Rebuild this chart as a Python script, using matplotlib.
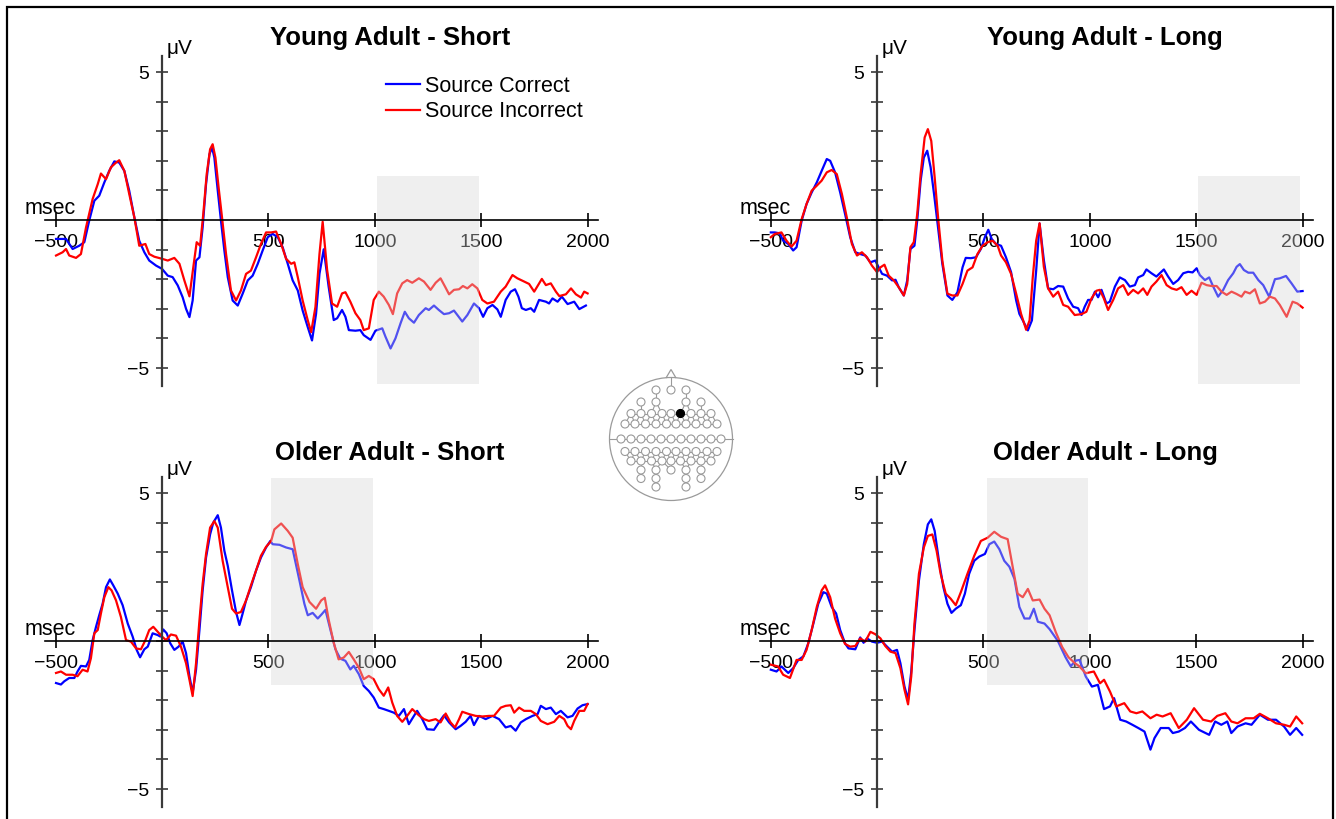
import matplotlib
matplotlib.use('Agg')
import matplotlib.pyplot as plt
from matplotlib.patches import Rectangle, Circle, Polygon
from matplotlib.ticker import FixedLocator, NullFormatter
import numpy as np

plt.rcParams['font.family'] = ['Liberation Sans', 'DejaVu Sans']

# ---------------- data (time in ms, amplitude in microvolts) ----------------
ya_short_correct = [(-498,-0.64),(-451,-0.64),(-420,-0.98),(-389,-0.87),(-365,-0.75),(-342,-0.02),(-318,0.65),(-295,0.82),(-271,1.27),(-248,1.66),(-224,1.98),(-201,1.94),(-177,1.66),(-154,0.99),(-130,0.09),(-107,-0.70),(-83,-1.09),(-60,-1.37),(-28,-1.54),(0,-1.65),(27,-1.88),(50,-1.93),(74,-2.21),(97,-2.61),(113,-3.0),(129,-3.28),(144,-2.72),(160,-1.37),(176,-1.26),(191,-0.25),(207,1.21),(223,2.22),(235,2.45),(246,2.11),(262,0.99),(277,-0.02),(293,-1.03),(309,-1.93),(332,-2.72),(356,-2.89),(379,-2.49),(403,-2.04),(426,-1.88),(450,-1.48),(473,-1.03),(497,-0.58),(520,-0.47),(544,-0.58),(567,-0.92),(591,-1.48),(614,-2.04),(638,-2.38),(661,-3.06),(685,-3.62),(705,-4.07),(724,-3.17),(740,-1.82),(760,-0.99),(783,-2.25),(807,-3.38),(823,-3.32),(846,-3.04),(862,-3.27),(878,-3.72),(909,-3.74),(932,-3.72),(948,-3.89),(980,-4.05),(1003,-3.74),(1035,-3.66),(1050,-3.94),(1074,-4.34),(1097,-4.0),(1121,-3.49),(1141,-3.10),(1160,-3.32),(1184,-3.47),(1207,-3.21),(1239,-2.98),(1254,-3.04),(1278,-2.89),(1301,-3.04),(1325,-3.18),(1349,-3.15),(1372,-3.06),(1388,-3.21),(1411,-3.43),(1435,-3.21),(1466,-2.82),(1490,-2.98),(1509,-3.27),(1529,-2.98),(1553,-2.87),(1576,-3.02),(1592,-3.27),(1615,-2.70),(1639,-2.42),(1659,-2.34),(1675,-2.59),(1691,-2.98),(1710,-3.04),(1733,-2.98),(1749,-3.10),(1772,-2.70),(1804,-2.76),(1819,-2.82),(1835,-2.65),(1859,-2.76),(1879,-2.59),(1906,-2.84),(1937,-2.76),(1961,-3.01),(1992,-2.89)]
ya_short_incorrect = [(-498,-1.20),(-467,-1.09),(-451,-0.98),(-436,-1.20),(-404,-1.28),(-381,-1.15),(-357,-0.25),(-326,0.71),(-302,1.21),(-287,1.57),(-263,1.38),(-240,1.78),(-216,1.94),(-201,2.02),(-177,1.66),(-154,0.88),(-130,0.09),(-107,-0.87),(-78,-0.81),(-60,-1.15),(-36,-1.24),(0,-1.31),(27,-1.37),(58,-1.28),(82,-1.48),(105,-2.04),(129,-2.58),(147,-1.60),(163,-0.75),(179,-0.87),(194,0.20),(210,1.55),(226,2.39),(238,2.56),(251,2.11),(266,1.10),(282,0.09),(301,-1.15),(324,-2.38),(348,-2.72),(371,-2.38),(395,-1.82),(418,-1.71),(442,-1.26),(465,-0.81),(489,-0.42),(513,-0.42),(536,-0.39),(560,-0.81),(583,-1.31),(607,-1.48),(622,-1.43),(638,-1.93),(661,-2.72),(685,-3.39),(701,-3.79),(721,-2.94),(740,-1.15),(755,-0.06),(776,-1.69),(799,-2.82),(823,-2.93),(846,-2.48),(862,-2.44),(885,-2.76),(909,-3.15),(932,-3.38),(948,-3.72),(972,-3.66),(995,-2.70),(1019,-2.42),(1042,-2.59),(1066,-2.87),(1085,-3.18),(1105,-2.48),(1129,-2.14),(1152,-2.03),(1176,-2.12),(1207,-1.97),(1231,-2.08),(1262,-2.36),(1286,-2.12),(1309,-1.97),(1330,-2.25),(1349,-2.51),(1372,-2.36),(1396,-2.34),(1414,-2.23),(1435,-2.31),(1458,-2.17),(1482,-2.31),(1505,-2.70),(1529,-2.82),(1560,-2.76),(1592,-2.42),(1615,-2.25),(1647,-1.86),(1670,-1.97),(1702,-2.08),(1725,-2.16),(1749,-2.42),(1785,-1.99),(1804,-2.20),(1827,-2.14),(1851,-2.42),(1867,-2.57),(1898,-2.51),(1922,-2.31),(1945,-2.51),(1969,-2.62),(1984,-2.42),(2000,-2.48)]

ya_long_correct = [(-499,-0.42),(-480,-0.42),(-457,-0.45),(-441,-0.70),(-417,-0.81),(-394,-1.03),(-378,-0.92),(-354,-0.02),(-331,0.54),(-307,0.93),(-283,1.27),(-260,1.66),(-236,2.06),(-220,2.0),(-197,1.61),(-173,0.93),(-150,0.20),(-126,-0.58),(-102,-1.09),(-79,-1.15),(-55,-1.20),(-31,-1.43),(-8,-1.37),(8,-1.60),(24,-1.82),(47,-1.88),(71,-2.04),(87,-2.02),(102,-2.27),(126,-2.55),(142,-2.04),(157,-0.98),(176,-0.87),(189,-0.02),(205,1.33),(220,2.11),(236,2.34),(252,1.78),(268,0.88),(283,-0.02),(307,-1.48),(331,-2.55),(354,-2.70),(378,-2.44),(402,-1.60),(417,-1.28),(441,-1.29),(465,-1.26),(488,-0.98),(507,-0.58),(523,-0.33),(539,-0.64),(559,-0.81),(583,-0.87),(606,-1.26),(630,-1.76),(654,-2.72),(669,-3.17),(685,-3.39),(709,-3.73),(728,-3.39),(748,-1.71),(764,-0.12),(784,-1.35),(804,-2.31),(828,-2.34),(851,-2.23),(875,-2.25),(898,-2.65),(922,-2.93),(945,-2.98),(961,-3.21),(976,-2.93),(992,-2.70),(1008,-2.70),(1024,-2.42),(1039,-2.61),(1055,-2.36),(1078,-2.82),(1094,-2.76),(1118,-2.25),(1141,-1.94),(1165,-2.03),(1188,-2.25),(1212,-2.20),(1227,-1.94),(1251,-1.86),(1266,-1.67),(1290,-1.80),(1313,-1.91),(1329,-1.80),(1348,-1.67),(1368,-1.91),(1392,-2.16),(1415,-2.03),(1439,-1.80),(1462,-1.75),(1483,-1.77),(1502,-1.63),(1517,-1.86),(1541,-2.03),(1561,-1.94),(1580,-2.25),(1603,-2.59),(1627,-2.36),(1650,-2.03),(1674,-1.80),(1690,-1.58),(1705,-1.49),(1724,-1.69),(1745,-1.78),(1768,-1.78),(1792,-2.03),(1815,-2.20),(1843,-2.59),(1870,-2.0),(1893,-1.97),(1922,-1.89),(1948,-2.14),(1975,-2.42),(2000,-2.40)]
ya_long_incorrect = [(-499,-0.58),(-480,-0.47),(-449,-0.42),(-425,-0.70),(-402,-0.90),(-378,-0.70),(-354,0.03),(-331,0.54),(-307,0.99),(-283,1.16),(-260,1.33),(-236,1.61),(-213,1.69),(-189,1.55),(-165,0.88),(-142,0.09),(-118,-0.81),(-94,-1.20),(-71,-1.09),(-47,-1.26),(-24,-1.54),(0,-1.76),(16,-1.60),(35,-1.51),(55,-1.88),(79,-2.04),(102,-2.27),(126,-2.55),(142,-2.16),(157,-0.92),(173,-0.75),(189,0.20),(205,1.55),(224,2.79),(239,3.07),(255,2.67),(271,1.44),(287,0.09),(307,-1.37),(331,-2.49),(354,-2.55),(378,-2.55),(402,-2.16),(425,-1.71),(449,-1.60),(472,-1.15),(496,-0.87),(520,-0.75),(543,-0.70),(567,-0.87),(583,-1.20),(606,-1.43),(630,-1.82),(654,-2.49),(677,-3.17),(701,-3.71),(717,-3.39),(732,-1.93),(748,-0.70),(764,-0.11),(784,-1.58),(804,-2.31),(828,-2.59),(851,-2.42),(875,-2.87),(898,-2.93),(929,-3.21),(961,-3.18),(984,-3.10),(1008,-2.65),(1031,-2.39),(1047,-2.36),(1066,-2.65),(1086,-3.04),(1110,-2.70),(1133,-2.31),(1157,-2.20),(1180,-2.53),(1204,-2.36),(1227,-2.48),(1251,-2.31),(1270,-2.53),(1290,-2.25),(1313,-2.08),(1337,-1.86),(1361,-2.20),(1384,-2.31),(1408,-2.36),(1431,-2.27),(1455,-2.53),(1478,-2.39),(1502,-2.53),(1525,-2.12),(1549,-2.20),(1572,-2.23),(1596,-2.23),(1619,-2.42),(1643,-2.53),(1666,-2.42),(1690,-2.50),(1713,-2.59),(1729,-2.42),(1752,-2.48),(1776,-2.34),(1799,-2.82),(1823,-2.76),(1846,-2.59),(1870,-2.65),(1893,-2.87),(1925,-3.27),(1953,-2.76),(1975,-2.82),(2000,-2.96)]

oa_short_correct = [(-498,-1.42),(-475,-1.47),(-459,-1.36),(-436,-1.25),(-412,-1.25),(-397,-1.03),(-381,-0.84),(-357,-0.86),(-342,-0.64),(-326,0.03),(-310,0.48),(-295,0.87),(-279,1.26),(-263,1.82),(-245,2.08),(-229,1.88),(-208,1.60),(-185,1.21),(-161,0.59),(-138,0.15),(-119,-0.30),(-103,-0.55),(-83,-0.28),(-67,-0.19),(-44,0.26),(-20,0.20),(-8,0.15),(6,0.39),(22,0.26),(39,-0.08),(58,-0.30),(78,-0.19),(97,-0.02),(113,-0.41),(129,-1.19),(144,-1.75),(160,-0.97),(176,0.37),(191,1.71),(207,2.82),(226,3.60),(241,4.0),(262,4.25),(277,3.83),(293,3.05),(309,2.54),(329,1.71),(348,0.98),(364,0.54),(379,0.93),(395,1.37),(418,1.82),(442,2.38),(465,2.82),(489,3.16),(509,3.38),(520,3.27),(552,3.25),(583,3.16),(614,3.10),(646,2.04),(669,1.26),(685,0.87),(708,0.95),(732,0.76),(750,0.90),(768,1.05),(791,0.39),(815,-0.28),(838,-0.60),(862,-0.67),(885,-0.96),(901,-0.84),(925,-1.12),(948,-1.52),(972,-1.69),(995,-1.91),(1019,-2.25),(1042,-2.30),(1066,-2.36),(1089,-2.42),(1113,-2.53),(1137,-2.30),(1160,-2.81),(1184,-2.53),(1199,-2.36),(1223,-2.64),(1246,-2.98),(1278,-3.0),(1301,-2.75),(1325,-2.51),(1349,-2.75),(1380,-2.98),(1403,-2.87),(1427,-2.73),(1450,-2.53),(1466,-2.84),(1490,-2.53),(1521,-2.64),(1553,-2.53),(1584,-2.64),(1615,-2.92),(1639,-2.87),(1662,-3.03),(1686,-2.75),(1710,-2.64),(1741,-2.53),(1765,-2.47),(1780,-2.19),(1804,-2.30),(1827,-2.25),(1851,-2.47),(1874,-2.36),(1906,-2.58),(1929,-2.53),(1953,-2.28),(1976,-2.17),(2000,-2.13)]
oa_short_incorrect = [(-498,-1.08),(-475,-1.03),(-451,-1.14),(-420,-1.14),(-397,-1.19),(-373,-0.97),(-350,-1.03),(-334,-0.58),(-318,0.26),(-302,0.37),(-287,0.93),(-271,1.48),(-252,1.82),(-237,1.71),(-216,1.37),(-193,0.81),(-169,0.03),(-146,-0.02),(-122,-0.25),(-99,-0.28),(-78,0.03),(-60,0.37),(-41,0.48),(-20,0.31),(0,0.15),(19,0.03),(42,0.22),(66,0.18),(89,-0.19),(113,-0.75),(129,-1.31),(144,-1.86),(160,-0.75),(176,0.70),(191,1.93),(207,2.94),(226,3.83),(246,4.05),(262,3.83),(285,2.71),(309,1.82),(329,1.09),(348,0.93),(371,0.98),(395,1.37),(418,1.88),(442,2.38),(465,2.88),(489,3.18),(513,3.38),(528,3.77),(560,3.97),(591,3.72),(614,3.49),(638,2.60),(661,1.82),(693,1.32),(724,1.09),(748,1.37),(765,1.46),(783,0.73),(807,-0.06),(830,-0.62),(854,-0.56),(878,-0.37),(901,-0.62),(925,-0.90),(948,-1.29),(972,-1.18),(995,-1.29),(1019,-1.63),(1042,-1.85),(1063,-1.57),(1082,-2.08),(1105,-2.53),(1129,-2.73),(1152,-2.53),(1176,-2.30),(1207,-2.51),(1231,-2.64),(1254,-2.70),(1286,-2.64),(1309,-2.75),(1333,-2.45),(1356,-2.75),(1377,-2.92),(1396,-2.64),(1411,-2.39),(1443,-2.47),(1474,-2.53),(1505,-2.55),(1537,-2.53),(1560,-2.53),(1592,-2.25),(1615,-2.19),(1639,-2.17),(1655,-2.42),(1678,-2.25),(1702,-2.36),(1733,-2.36),(1757,-2.47),(1780,-2.70),(1812,-2.81),(1843,-2.73),(1867,-2.53),(1890,-2.64),(1906,-2.87),(1922,-2.98),(1937,-2.70),(1961,-2.36),(1984,-2.36),(2000,-2.13)]

oa_long_correct = [(-499,-0.97),(-472,-1.03),(-449,-0.86),(-417,-1.08),(-394,-0.92),(-370,-0.64),(-346,-0.52),(-323,-0.08),(-299,0.59),(-276,1.26),(-252,1.65),(-236,1.60),(-213,1.15),(-192,0.93),(-173,0.37),(-150,-0.08),(-134,-0.25),(-102,-0.28),(-79,0.12),(-63,-0.06),(-47,0.09),(-24,-0.02),(0,-0.06),(24,-0.02),(47,-0.19),(71,-0.36),(94,-0.30),(110,-0.75),(129,-1.53),(146,-1.98),(161,-1.03),(176,0.37),(197,2.04),(220,3.27),(239,3.94),(255,4.11),(271,3.72),(291,2.71),(312,1.82),(331,1.26),(350,0.95),(370,1.09),(394,1.21),(413,1.60),(433,2.27),(457,2.71),(480,2.85),(507,2.94),(528,3.27),(551,3.36),(575,3.10),(598,2.71),(622,2.51),(646,2.10),(669,1.15),(693,0.76),(717,0.76),(737,1.09),(756,0.65),(787,0.59),(811,0.40),(850,0.0),(886,-0.55),(910,-0.85),(935,-0.66),(952,-0.64),(981,-1.20),(1010,-1.54),(1038,-1.48),(1067,-2.30),(1095,-2.21),(1114,-1.93),(1143,-2.66),(1171,-2.72),(1200,-2.83),(1228,-2.94),(1257,-3.06),(1285,-3.67),(1304,-3.28),(1333,-2.94),(1371,-2.94),(1390,-3.11),(1418,-3.06),(1447,-2.94),(1475,-2.72),(1513,-3.0),(1561,-3.17),(1589,-2.72),(1618,-2.83),(1646,-2.72),(1665,-3.11),(1694,-2.89),(1732,-2.78),(1760,-2.83),(1799,-2.49),(1837,-2.66),(1875,-2.66),(1913,-2.89),(1941,-3.17),(1970,-2.94),(1998,-3.17)]
oa_long_incorrect = [(-499,-0.80),(-465,-0.86),(-441,-1.14),(-409,-1.25),(-378,-0.64),(-354,-0.64),(-331,-0.30),(-307,0.37),(-283,1.15),(-260,1.71),(-244,1.88),(-220,1.48),(-197,0.76),(-173,0.26),(-150,-0.10),(-126,-0.19),(-102,-0.17),(-79,0.09),(-55,-0.02),(-31,0.31),(-8,0.23),(16,0.09),(39,-0.17),(63,-0.36),(87,-0.41),(110,-0.92),(129,-1.64),(146,-2.14),(161,-1.19),(176,0.59),(197,2.27),(220,3.16),(239,3.55),(260,3.60),(280,3.05),(299,2.27),(323,1.60),(346,1.43),(370,1.21),(394,1.65),(425,2.27),(457,2.88),(488,3.38),(520,3.49),(551,3.69),(583,3.52),(614,3.44),(638,2.49),(661,1.60),(685,1.48),(709,1.76),(732,1.37),(764,1.40),(787,1.09),(811,0.87),(840,0.30),(870,-0.20),(900,-0.55),(930,-0.75),(950,-0.85),(981,-1.09),(1019,-1.03),(1048,-1.43),(1067,-1.31),(1095,-1.71),(1124,-2.21),(1162,-2.10),(1190,-2.38),(1219,-2.44),(1247,-2.38),(1285,-2.61),(1314,-2.49),(1342,-2.55),(1380,-2.44),(1418,-2.94),(1456,-2.66),(1490,-2.27),(1532,-2.66),(1570,-2.72),(1599,-2.53),(1637,-2.44),(1665,-2.72),(1694,-2.78),(1732,-2.61),(1770,-2.61),(1799,-2.46),(1837,-2.61),(1875,-2.78),(1913,-2.83),(1941,-2.89),(1970,-2.55),(1998,-2.78)]

panel_titles = ["Young Adult - Short", "Young Adult - Long", "Older Adult - Short", "Older Adult - Long"]
panel_series = [(ya_short_correct, ya_short_incorrect), (ya_long_correct, ya_long_incorrect),
                (oa_short_correct, oa_short_incorrect), (oa_long_correct, oa_long_incorrect)]
# shaded analysis windows: (start ms, end ms, low uV, high uV)
panel_windows = [(1010, 1490, -5.55, 1.5), (1510, 1990, -5.55, 1.5),
                 (510, 990, -1.5, 5.5), (515, 993, -1.5, 5.5)]
series_labels = ["Source Correct", "Source Incorrect"]
series_colors = ["#0000ff", "#ff0000"]
x_ticks = [-500, 500, 1000, 1500, 2000]
x_tick_labels = ["\u2212500", "500", "1000", "1500", "2000"]
y_major = [-5, 5]
y_major_labels = ["\u22125", "5"]
y_minor = [-5, -4, -3, -2, -1, 0, 1, 2, 3, 4, 5]

# electrode montage rows for the head inset: (row offset, column offsets), pixels from head centre
head_rows = [
    (-49, [-15, 0, 15]),
    (-37, [-30, -15, 15, 30]),
    (-25.5, [-40, -30, -19.5, -9, 0, 9.5, 20, 30, 40]),
    (-15, [-46, -36, -25.5, -15, -4.5, 5, 15, 25, 36, 46]),
    (0, [-50, -40, -30, -20, -10, 0, 10, 20, 30, 40, 50]),
    (12.5, [-46, -36, -25.5, -15, -4.5, 5, 15, 25, 36, 46]),
    (22, [-40, -30, -19.5, -9, 0, 9.5, 20, 30, 40]),
    (31, [-30, -15, 0, 15, 30]),
    (39.5, [-30, -15, 15, 30]),
    (48, [-15, 15]),
]
active_electrode = (9.5, -25.5)

# ---------------- figure ----------------
W, H = 1336, 819
fig = plt.figure(figsize=(W / 100, H / 100), dpi=100)

XMIN, XMAX = -550, 2050
YMIN, YMAX = -5.6, 5.55
PX_MS = 0.2128
PX_UV = 29.6
origins = [(162, 220), (877, 220), (162, 641), (877, 641)]
title_pos = [(390, 38), (1105, 38), (390, 453), (1105, 453)]

# outer frame
fig.patches.append(Rectangle((7 / W, -0.05), (1333 - 7) / W, (819 - 7) / H + 0.05,
                             transform=fig.transFigure, fill=False,
                             edgecolor='black', linewidth=1.6, zorder=0))

axes = []
for i, ((ox, oy), (corr, inc)) in enumerate(zip(origins, panel_series)):
    left = ox + XMIN * PX_MS
    width = (XMAX - XMIN) * PX_MS
    top = oy - YMAX * PX_UV
    bottom = oy - YMIN * PX_UV
    ax = fig.add_axes([left / W, 1 - bottom / H, width / W, (bottom - top) / H])
    ax.set_xlim(XMIN, XMAX)
    ax.set_ylim(YMIN, YMAX)
    ax.patch.set_visible(False)
    for s in ['top', 'right']:
        ax.spines[s].set_visible(False)
    ax.spines['left'].set_position(('data', 0))
    ax.spines['bottom'].set_position(('data', 0))
    ax.spines['left'].set_color('#3a3a3a')
    ax.spines['left'].set_linewidth(1.6)
    ax.spines['bottom'].set_color('black')
    ax.spines['bottom'].set_linewidth(1.2)
    ax.spines['left'].set_zorder(4)
    ax.spines['bottom'].set_zorder(4)

    ax.set_xticks(x_ticks)
    ax.set_xticklabels(x_tick_labels)
    ax.tick_params(axis='x', direction='inout', length=10, width=1.2, color='black',
                   labelsize=14, pad=5)
    ax.set_yticks(y_major)
    ax.set_yticklabels(y_major_labels)
    ax.yaxis.set_minor_locator(FixedLocator(y_minor))
    ax.yaxis.set_minor_formatter(NullFormatter())
    ax.tick_params(axis='y', which='both', direction='inout', length=8, width=1.2,
                   color='#3a3a3a', labelsize=14, pad=5)

    for data, col, lab in zip((corr, inc), series_colors, series_labels):
        t = [p[0] for p in data]
        v = [p[1] for p in data]
        ax.plot(t, v, color=col, lw=1.6, label=lab, zorder=2, solid_joinstyle='round')

    x0, x1, y0, y1 = panel_windows[i]
    ax.add_patch(Rectangle((x0, y0), x1 - x0, y1 - y0, facecolor='#d6d6d6',
                           edgecolor='none', alpha=0.38, zorder=3))

    ax.text(-526, 0.38, "msec", fontsize=15.5, ha='center', va='center', clip_on=False)
    ax.text(82, 5.81, "\u03bcV", fontsize=15, ha='center', va='center', clip_on=False)
    tx, ty = title_pos[i]
    fig.text(tx / W, 1 - ty / H, panel_titles[i], fontsize=18.5, fontweight='bold',
             ha='center', va='center')
    axes.append(ax)

leg = axes[0].legend(loc='upper left', bbox_to_anchor=(386 / W, 1 - 76 / H),
                     bbox_transform=fig.transFigure, frameon=False, fontsize=15.5,
                     handlelength=1.6, handletextpad=0.2, labelspacing=0.2,
                     borderpad=0, borderaxespad=0)

# ---------------- head inset ----------------
HC = (671, 439)
HR = 61.5
hax = fig.add_axes([(HC[0] - 75) / W, 1 - (HC[1] + 75) / H, 150 / W, 150 / H])
hax.set_xlim(-75, 75)
hax.set_ylim(75, -75)
hax.set_aspect('equal')
hax.axis('off')
gc = '#9a9a9a'
hax.add_patch(Circle((0, 0), HR, fill=False, edgecolor=gc, lw=0.9))
hax.add_patch(Polygon([(-5, -HR + 0.5), (0, -HR - 8), (5, -HR + 0.5)], closed=False,
                      fill=False, edgecolor=gc, lw=0.9))
pts = []
for dy, cols in head_rows:
    for dx in cols:
        pts.append((dx, dy))
pts = np.array(pts, dtype=float)
for a in range(len(pts)):
    for b in range(a + 1, len(pts)):
        d = np.hypot(*(pts[a] - pts[b]))
        if d < 13.0:
            hax.plot([pts[a][0], pts[b][0]], [pts[a][1], pts[b][1]], color=gc, lw=0.8, zorder=1)
hax.plot([-HR, -50], [0, 0], color=gc, lw=0.8, zorder=1)
hax.plot([50, HR], [0, 0], color=gc, lw=0.8, zorder=1)
hax.plot([0, 0], [-HR, -49], color=gc, lw=0.8, zorder=1)
for (x, y) in pts:
    hax.add_patch(Circle((x, y), 4.0, facecolor='white', edgecolor=gc, lw=0.8, zorder=2))
hax.add_patch(Circle(active_electrode, 4.0, facecolor='black', edgecolor='black',
                     lw=0.8, zorder=3))

fig.savefig('out.png', dpi=100)
